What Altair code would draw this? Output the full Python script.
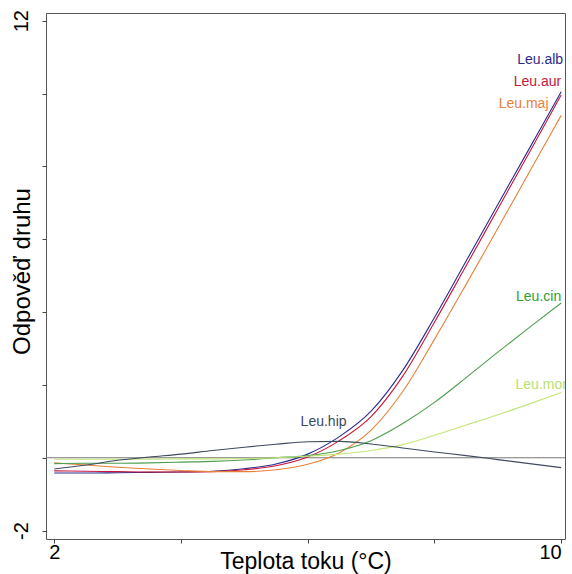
import altair as alt
import pandas as pd

# Response curves of Leuctra species along stream temperature
temperature = [2, 2.5, 3, 3.5, 4, 4.5, 5, 5.5, 6, 6.5, 7, 7.5, 8, 8.5, 9, 9.5, 10]

leu_alb = [-0.42, -0.42, -0.41, -0.40, -0.39, -0.37, -0.30, -0.17, 0.10, 0.58, 1.28, 2.40, 3.85, 5.40, 6.95, 8.50, 10.05]
leu_aur = [-0.36, -0.37, -0.38, -0.39, -0.39, -0.38, -0.33, -0.22, 0.02, 0.47, 1.13, 2.24, 3.72, 5.27, 6.83, 8.39, 9.96]
leu_maj = [-0.14, -0.20, -0.26, -0.31, -0.35, -0.38, -0.38, -0.33, -0.18, 0.14, 0.76, 1.82, 3.25, 4.76, 6.30, 7.85, 9.40]
leu_cin = [-0.16, -0.15, -0.15, -0.14, -0.12, -0.10, -0.06, 0.00, 0.06, 0.20, 0.47, 0.94, 1.52, 2.20, 2.90, 3.58, 4.25]
leu_mor = [-0.04, -0.04, -0.04, -0.04, -0.03, -0.03, -0.02, 0.00, 0.04, 0.10, 0.20, 0.36, 0.62, 0.90, 1.18, 1.48, 1.79]
leu_hip = [-0.31, -0.20, -0.07, 0.02, 0.10, 0.20, 0.29, 0.37, 0.44, 0.45, 0.38, 0.27, 0.16, 0.06, -0.05, -0.16, -0.27]

species = ["Leu.alb", "Leu.aur", "Leu.maj", "Leu.cin", "Leu.mor", "Leu.hip"]
series = [leu_alb, leu_aur, leu_maj, leu_cin, leu_mor, leu_hip]
line_colors = ["#2b2b8c", "#c8163c", "#e8803a", "#4e9e4e", "#c2e67a", "#3d4a5c"]
label_colors = ["#2b2b8c", "#c8163c", "#e8803a", "#2ea02e", "#b8e070", "#3d4a5c"]

# Label anchor points (data coordinates)
label_x = [10.03, 10.0, 9.8, 10.0, 10.09, 6.25]
label_y = [10.92, 10.32, 9.71, 4.41, 1.99, 0.98]
label_align = ["right", "right", "right", "right", "right", "center"]

x_ticks = [2, 4, 6, 8, 10]
y_ticks = [-2, 0, 2, 4, 6, 8, 10, 12]

rows = []
for name, vals in zip(species, series):
    for t, v in zip(temperature, vals):
        rows.append({"species": name, "temp": t, "resp": v})
curves = pd.DataFrame(rows)

labels = pd.DataFrame({
    "species": species,
    "x": label_x,
    "y": label_y,
    "align": label_align,
})

x_scale = alt.Scale(domain=[1.87, 10.06], nice=False, zero=False)
y_scale = alt.Scale(domain=[-2.23, 12.21], nice=False, zero=False)
color_scale = alt.Scale(domain=species, range=line_colors)
label_scale = alt.Scale(domain=species, range=label_colors)

x_axis = alt.Axis(
    values=x_ticks,
    labelExpr="datum.value == 2 ? '2' : (datum.value == 10 ? '10' : '')",
    labelAlign=alt.condition("datum.value == 10", alt.value("right"), alt.value("center")),
    title="Teplota toku (°C)",
    titleFontSize=23, titleFontWeight="normal", titleY=29, titleBaseline="alphabetic",
    labelFontSize=20, labelPadding=-1, tickSize=4, domain=False, grid=False,
    labelColor="black", titleColor="black", tickColor="#444",
)
y_axis = alt.Axis(
    values=y_ticks,
    labelExpr="datum.value == -2 ? '-2' : (datum.value == 12 ? '12' : '')",
    title="Odpověď druhu",
    titleFontSize=24, titleFontWeight="normal", titleAngle=270,
    titleX=-24, titleY=258, titleAlign="center", titleBaseline="middle",
    labelFontSize=20, labelAngle=270, labelPadding=11, tickSize=4,
    domain=False, grid=False, labelColor="black", titleColor="black", tickColor="#444",
)

zero_line = alt.Chart(pd.DataFrame({"y": [0]})).mark_rule(
    color="#777777", strokeWidth=1
).encode(y=alt.Y("y:Q", scale=y_scale, axis=y_axis))

lines = alt.Chart(curves).mark_line(strokeWidth=1.1, interpolate="monotone").encode(
    x=alt.X("temp:Q", scale=x_scale, axis=x_axis),
    y=alt.Y("resp:Q", scale=y_scale),
    color=alt.Color("species:N", scale=color_scale, legend=None),
    detail="species:N",
)

def label_layer(align):
    return alt.Chart(labels[labels["align"] == align]).mark_text(
        align=align, baseline="middle", fontSize=14, font="Liberation Sans", clip=True
    ).encode(
        x=alt.X("x:Q", scale=x_scale),
        y=alt.Y("y:Q", scale=y_scale),
        text="species:N",
        color=alt.Color("species:N", scale=label_scale, legend=None),
    )

chart = alt.layer(
    zero_line, lines, label_layer("right"), label_layer("center")
).resolve_scale(color="independent").properties(
    width=519,
    height=526,
    autosize=alt.AutoSizeParams(type="none"),
    padding={"left": 46, "top": 13, "right": 7, "bottom": 35},
).configure(
    font="Liberation Sans",
).configure_view(
    stroke="#555555", strokeWidth=1,
)

chart.save("out.html", embed_options={"renderer": "svg", "actions": False})
